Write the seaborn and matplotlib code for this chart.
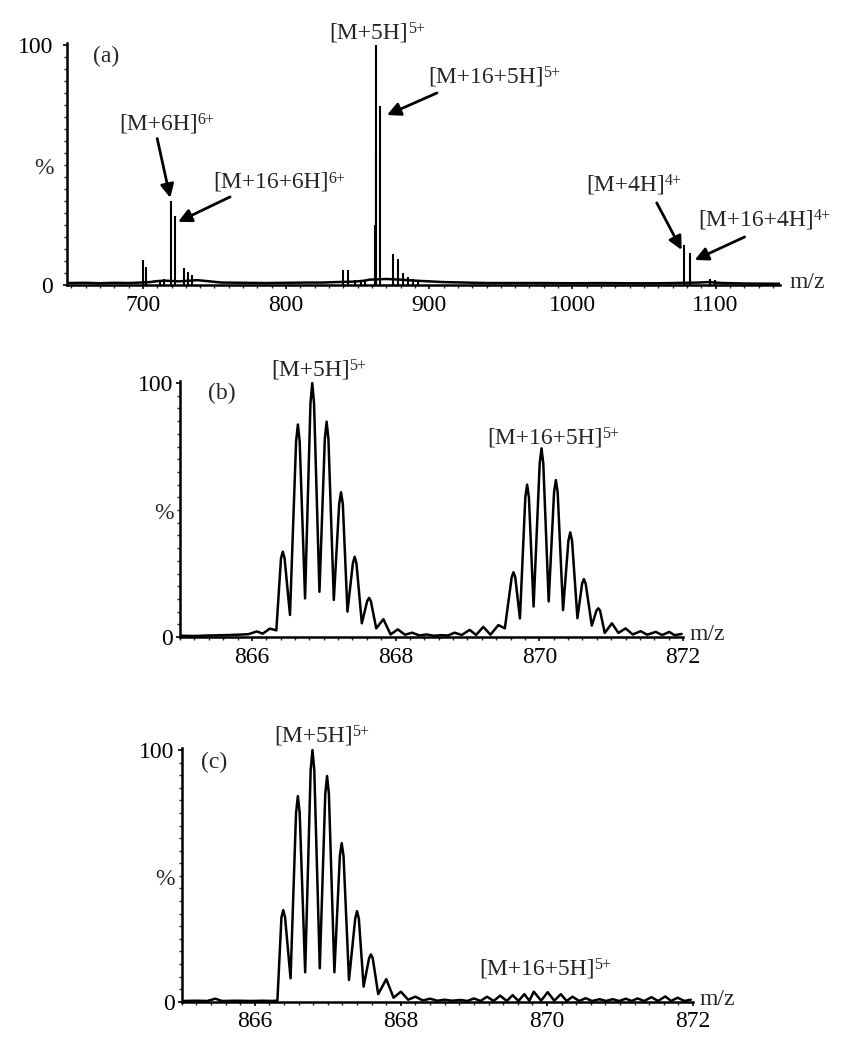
import matplotlib
matplotlib.use("Agg")
import matplotlib.pyplot as plt
from matplotlib.ticker import MultipleLocator, FixedLocator
import seaborn as sns

# ---- panel (a): full scan, baseline + peak sticks
A_NOISE_MZ = [647, 660, 670, 680, 690, 698, 705, 710, 715, 725, 738, 745, 755, 770, 785, 800,
              815, 825, 835, 848, 855, 858, 870, 880, 890, 900, 910, 925, 940, 960, 980, 1000,
              1020, 1040, 1060, 1070, 1088, 1095, 1105, 1120, 1145]
A_NOISE_INT = [0.8, 0.9, 0.7, 0.9, 0.8, 1.0, 1.2, 1.6, 1.8, 1.5, 2.0, 1.6, 1.0, 0.9, 0.8, 0.9,
               1.0, 1.0, 1.2, 1.4, 1.8, 2.2, 2.5, 2.2, 1.8, 1.5, 1.2, 1.0, 0.8, 0.8, 0.8, 0.7,
               0.8, 0.7, 0.7, 0.8, 1.0, 1.2, 0.8, 0.6, 0.5]
A_PEAK_MZ = [700.0, 702.3, 712, 715, 719.8, 722.1, 728.8, 731.4, 734.4, 839.5, 843.0, 848, 852,
             855, 862.3, 862.6, 862.9, 865.9, 874.4, 877.9, 881.4, 884.9, 888.6, 892, 1077.9,
             1082.4, 1096.4, 1099.9]
A_PEAK_INT = [10.4, 7.5, 2.2, 2.5, 35, 28.7, 7, 5.5, 4, 6.2, 6.2, 2, 2, 2.2, 25, 55, 100, 74.6,
              13, 10.7, 4.9, 3.2, 2.6, 2, 16.7, 13.2, 2.3, 2]
A_TICKS = [700, 800, 900, 1000, 1100]

# ---- panel (b): zoom on the 5+ ions
B_MZ = [865.00, 865.20, 865.40, 865.60, 865.80, 865.95, 866.07, 866.15, 866.25, 866.34,
        866.405, 866.43, 866.455, 866.53, 866.615, 866.64, 866.665, 866.74,
        866.815, 866.84, 866.865, 866.94, 867.015, 867.04, 867.065, 867.14,
        867.215, 867.24, 867.265, 867.33, 867.405, 867.43, 867.455, 867.53,
        867.605, 867.63, 867.655, 867.73, 867.83, 867.93, 868.03, 868.13, 868.23, 868.33,
        868.43, 868.53, 868.63, 868.73, 868.82, 868.92, 869.03, 869.12, 869.22, 869.32,
        869.43, 869.52, 869.615, 869.64, 869.665, 869.73, 869.805, 869.83, 869.855, 869.92,
        870.005, 870.03, 870.055, 870.13, 870.205, 870.23, 870.255, 870.33,
        870.405, 870.43, 870.455, 870.53, 870.595, 870.62, 870.645, 870.73,
        870.795, 870.82, 870.845, 870.91, 871.01, 871.10, 871.20, 871.30,
        871.41, 871.50, 871.62, 871.71, 871.81, 871.88, 871.98]
B_INT = [0.5, 0.4, 0.6, 0.7, 0.9, 1.1, 2.2, 1.3, 3.3, 2.6,
         31.0, 33.6, 31.0, 8.7, 77.0, 83.7, 77.0, 15.2,
         92.0, 100, 92.0, 17.8, 78.0, 84.8, 78.0, 14.6,
         52.5, 57.0, 52.5, 10.0, 29.0, 31.6, 29.0, 5.4,
         14.2, 15.4, 14.2, 3.4, 7.0, 1.0, 3.0, 0.9, 1.7, 0.6,
         1.0, 0.5, 0.7, 0.6, 1.7, 0.8, 2.8, 0.8, 4.0, 0.9,
         4.7, 3.4, 23.5, 25.5, 23.5, 7.3, 55.0, 60.0, 55.0, 12.0,
         68.4, 74.3, 68.4, 14.0, 57.0, 61.8, 57.0, 10.6,
         38.0, 41.2, 38.0, 7.4, 21.0, 22.8, 21.0, 4.5,
         10.4, 11.3, 10.4, 1.6, 5.4, 1.6, 3.4, 1.0,
         2.3, 0.9, 2.0, 0.8, 2.0, 0.7, 1.2]

# ---- panel (c): same window, second sample
C_MZ = [865.00, 865.20, 865.35, 865.46, 865.55, 865.75, 865.95, 866.10, 866.25, 866.31,
        866.365, 866.39, 866.415, 866.49, 866.565, 866.59, 866.615, 866.69,
        866.765, 866.79, 866.815, 866.89, 866.965, 866.99, 867.015, 867.09,
        867.165, 867.19, 867.215, 867.29, 867.375, 867.40, 867.425, 867.49,
        867.565, 867.59, 867.615, 867.69, 867.80, 867.90, 868.00, 868.10, 868.20, 868.30,
        868.40, 868.50, 868.60, 868.70, 868.82, 868.91, 869.00, 869.09, 869.18, 869.27,
        869.36, 869.45, 869.53, 869.61, 869.69, 869.76, 869.82, 869.92, 870.01, 870.10,
        870.19, 870.27, 870.35, 870.44, 870.53, 870.62, 870.72, 870.81, 870.90, 870.99,
        871.08, 871.16, 871.24, 871.33, 871.43, 871.52, 871.62, 871.70, 871.79, 871.88,
        871.97]
C_INT = [0.3, 0.4, 0.3, 1.2, 0.3, 0.4, 0.3, 0.4, 0.3, 0.5,
         33.5, 36.4, 33.5, 9.3, 75.0, 81.7, 75.0, 11.7,
         92.0, 100, 92.0, 13.3, 82.5, 89.7, 82.5, 11.7,
         58.0, 63.0, 58.0, 8.6, 33.0, 36.0, 33.0, 6.0,
         17.3, 18.8, 17.3, 3.0, 9.0, 1.6, 4.0, 0.8, 2.0, 0.5,
         1.2, 0.4, 0.8, 0.4, 0.7, 0.3, 1.3, 0.3, 2.0, 0.3,
         2.4, 0.3, 2.6, 0.3, 3.0, 0.4, 4.0, 0.4, 3.8, 0.4,
         3.0, 0.3, 2.0, 0.3, 1.4, 0.3, 1.0, 0.3, 1.0, 0.3,
         1.2, 0.3, 1.3, 0.3, 1.8, 0.3, 2.1, 0.3, 1.6, 0.3,
         0.8]
BC_TICKS = [866, 868, 870, 872]

sns.set_style("ticks")
plt.rcParams["font.family"] = ["Liberation Serif", "DejaVu Serif"]
FS = 17
FS_SUP = 11.5


def style_axis(ax, xlim, xticks, xminor, ypad, lab_x):
    ax.set_xlim(*xlim)
    ax.set_ylim(0, 101)
    sns.despine(ax=ax)
    for s in ("left", "bottom"):
        ax.spines[s].set_linewidth(1.8)
        ax.spines[s].set_color("black")
    ax.xaxis.set_major_locator(FixedLocator(xticks))
    ax.xaxis.set_minor_locator(MultipleLocator(xminor))
    ax.yaxis.set_major_locator(FixedLocator([0, 100]))
    ax.yaxis.set_minor_locator(MultipleLocator(5))
    ax.tick_params(axis="both", which="major", direction="out", length=3, width=1.2,
                   labelsize=FS, colors="black")
    ax.tick_params(axis="both", which="minor", direction="out", length=2, width=1.0)
    ax.tick_params(axis="y", pad=ypad)
    ax.tick_params(axis="x", pad=4)
    ax.set_xlabel("")
    ax.set_ylabel("")
    ax.text(-0.032, 0.48, "%", transform=ax.transAxes, ha="center", va="center", fontsize=FS)
    ax.text(lab_x, 0.01, "m/z", transform=ax.transAxes, ha="left", va="center", fontsize=FS)


def ion_label(ax, x, y, main, sup):
    # x, y = centre of the bracketed part; charge written small, top right
    t = ax.text(x, y, main, ha="center", va="center", fontsize=FS)
    ax.annotate(sup, xy=(1, 1), xycoords=t, xytext=(-0.5, 1.0), textcoords="offset points",
                ha="left", va="top", fontsize=FS_SUP)


def arrow(ax, tail, head):
    ax.annotate("", xy=head, xytext=tail,
                arrowprops=dict(arrowstyle="-|>", color="black", lw=2.0, mutation_scale=20,
                                shrinkA=0, shrinkB=0))


fig = plt.figure(figsize=(8.46, 10.4), dpi=100)

# (a)
ax_a = fig.add_axes([0.0792, 0.7260, 0.8428, 0.2331])
sns.lineplot(x=A_NOISE_MZ, y=A_NOISE_INT, ax=ax_a, color="black", linewidth=1.8)
ax_a.vlines(A_PEAK_MZ, 0, A_PEAK_INT, color="black", linewidth=1.5)
style_axis(ax_a, (647, 1145), A_TICKS, 10, 7, 1.014)
ax_a.text(674, 95, "(a)", ha="center", va="center", fontsize=FS)
ion_label(ax_a, 857.9, 105, "[M+5H]", "5+")
ion_label(ax_a, 939.4, 86.8, "[M+16+5H]", "5+")
arrow(ax_a, (905.4, 80), (870.5, 70.8))
ion_label(ax_a, 710.9, 67, "[M+6H]", "6+")
arrow(ax_a, (710.0, 61), (719.1, 36.3))
ion_label(ax_a, 789.4, 42.7, "[M+16+6H]", "6+")
arrow(ax_a, (760.9, 36.7), (724.6, 26.3))
ion_label(ax_a, 1037.2, 41.7, "[M+4H]", "4+")
arrow(ax_a, (1058.9, 34.2), (1076.3, 14.6))
ion_label(ax_a, 1128.5, 27.1, "[M+16+4H]", "4+")
arrow(ax_a, (1120.3, 20), (1085.4, 10.4))

# (b)
ax_b = fig.add_axes([0.2128, 0.3875, 0.5946, 0.2466])
sns.lineplot(x=B_MZ, y=B_INT, ax=ax_b, color="black", linewidth=1.8)
style_axis(ax_b, (865, 872), BC_TICKS, 0.2, 2, 1.012)
ax_b.text(865.58, 96, "(b)", ha="center", va="center", fontsize=FS)
ion_label(ax_b, 866.81, 105.1, "[M+5H]", "5+")
ion_label(ax_b, 870.08, 78.5, "[M+16+5H]", "5+")

# (c)
ax_c = fig.add_axes([0.2148, 0.0368, 0.6044, 0.2444])
sns.lineplot(x=C_MZ, y=C_INT, ax=ax_c, color="black", linewidth=1.8)
style_axis(ax_c, (865, 872), BC_TICKS, 0.2, 2, 1.012)
ax_c.text(865.44, 95, "(c)", ha="center", va="center", fontsize=FS)
ion_label(ax_c, 866.80, 105.6, "[M+5H]", "5+")
ion_label(ax_c, 869.86, 13, "[M+16+5H]", "5+")

fig.savefig("out.png", dpi=100)
